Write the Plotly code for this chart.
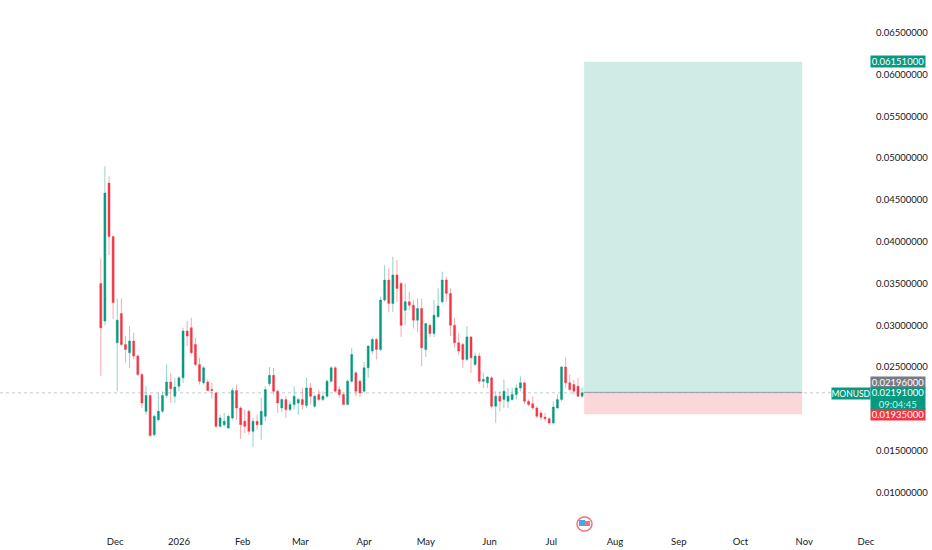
import numpy as np
import pandas as pd
import plotly.graph_objects as go

# MONUSD 2D candles, prices in thousandths of a dollar
dates = pd.date_range("2025-11-24", periods=118, freq="2D")
opens = [35.0, 30.5, 47.0, 40.6, 27.9, 31.4, 27.7, 26.7, 28.1, 26.3, 24.1, 19.7, 21.6, 16.9, 18.7, 19.7, 21.6, 23.2, 21.5, 22.7,
         23.7, 29.3, 29.7, 27.7, 25.3, 23.1, 23.2, 22.3, 21.9, 17.9, 18.1, 17.7, 18.9, 22.2, 20.1, 18.5, 19.7, 17.3, 18.5, 18.1,
         19.1, 23.0, 24.0, 22.1, 20.1, 21.1, 19.9, 20.5, 20.7, 21.1, 20.4, 22.5, 20.3, 21.7, 21.1, 21.5, 23.3, 24.9, 22.3, 21.7,
         20.5, 23.3, 24.3, 23.3, 22.1, 24.9, 26.9, 28.3, 27.1, 33.0, 35.4, 32.6, 36.0, 35.0, 31.8, 32.8, 32.4, 30.6, 32.0, 27.1,
         30.0, 29.0, 31.0, 32.8, 35.4, 33.8, 30.0, 27.9, 27.7, 25.9, 28.6, 25.3, 26.3, 23.3, 23.1, 23.7, 20.3, 21.5, 21.1, 20.9,
         21.1, 21.7, 22.5, 23.1, 20.9, 20.6, 20.1, 19.5, 19.0, 18.8, 18.3, 20.1, 21.1, 25.0, 23.1, 22.9, 22.7, 21.5]
highs = [38.0, 49.0, 47.8, 40.7, 33.2, 33.2, 28.7, 29.9, 29.1, 26.5, 24.3, 22.7, 21.7, 19.3, 21.9, 22.1, 25.3, 24.3, 23.7, 23.9,
         29.7, 30.5, 30.9, 28.5, 26.1, 25.1, 23.5, 23.1, 22.0, 19.3, 19.5, 19.3, 22.5, 22.9, 20.3, 19.9, 19.9, 18.9, 19.3, 21.3,
         22.7, 25.0, 24.9, 22.3, 21.3, 21.5, 20.9, 22.7, 21.3, 22.5, 23.7, 23.1, 21.7, 22.3, 22.1, 23.5, 25.1, 25.1, 22.7, 21.9,
         23.5, 27.3, 24.5, 23.5, 25.6, 27.6, 28.5, 28.5, 33.4, 37.2, 36.8, 38.2, 37.8, 35.2, 35.0, 34.0, 33.0, 33.2, 33.2, 30.2,
         30.2, 33.0, 34.4, 36.4, 35.8, 34.4, 30.9, 29.0, 27.9, 29.9, 28.7, 26.7, 26.7, 24.3, 23.9, 23.9, 22.1, 22.1, 23.5, 22.5,
         22.5, 22.9, 23.9, 23.2, 21.1, 21.5, 20.3, 19.8, 19.5, 19.0, 20.9, 21.7, 25.1, 26.1, 24.1, 23.5, 23.7, 22.5]
lows = [23.9, 30.0, 38.4, 30.7, 22.1, 27.5, 25.5, 24.9, 25.9, 23.9, 20.1, 19.3, 16.6, 16.7, 18.5, 19.5, 21.3, 20.7, 20.7, 22.1,
        23.1, 27.5, 26.5, 25.1, 22.9, 22.9, 22.1, 21.2, 17.7, 17.7, 17.9, 17.6, 18.7, 18.7, 16.4, 17.1, 16.9, 15.4, 17.5, 16.3,
        18.5, 22.7, 21.7, 19.5, 19.6, 18.9, 19.7, 19.9, 19.3, 19.9, 20.1, 20.5, 20.1, 20.9, 20.9, 21.3, 23.1, 21.9, 21.3, 20.5,
        20.5, 23.1, 21.5, 21.4, 21.9, 23.7, 26.5, 25.9, 26.9, 32.8, 31.6, 31.6, 32.8, 28.6, 30.0, 31.8, 29.6, 29.2, 25.1, 26.2,
        28.6, 28.6, 30.9, 32.6, 32.8, 28.7, 27.3, 26.5, 24.9, 25.7, 24.3, 25.1, 23.0, 22.5, 22.5, 20.1, 18.3, 19.7, 20.1, 20.1,
        21.0, 21.1, 22.1, 20.6, 20.3, 19.9, 18.9, 18.6, 18.5, 18.1, 18.1, 20.0, 20.9, 22.5, 22.1, 21.7, 21.4, 21.3]
closes = [29.7, 45.8, 40.6, 32.7, 30.6, 27.7, 27.1, 28.1, 26.3, 24.1, 20.7, 21.6, 16.8, 19.1, 19.7, 21.6, 23.2, 22.4, 22.6, 23.7,
          29.3, 28.7, 26.7, 25.3, 23.3, 24.9, 22.2, 22.2, 17.9, 18.9, 18.5, 19.1, 22.2, 20.1, 18.1, 17.9, 17.3, 18.5, 18.1, 19.7,
          22.3, 24.0, 22.1, 20.7, 21.1, 19.9, 20.5, 21.5, 21.1, 20.5, 22.5, 21.5, 21.5, 21.1, 21.5, 23.3, 24.9, 22.1, 21.7, 20.5,
          23.3, 26.5, 22.1, 21.9, 24.9, 27.5, 28.3, 27.1, 33.0, 35.4, 32.6, 36.0, 34.4, 30.0, 32.8, 32.4, 30.6, 32.0, 27.3, 30.2,
          29.0, 31.2, 32.3, 35.4, 33.8, 30.0, 27.9, 26.9, 25.9, 28.6, 26.1, 26.3, 23.3, 23.5, 23.8, 20.3, 21.5, 20.9, 22.1, 21.5,
          21.7, 22.5, 23.1, 20.9, 20.5, 20.1, 19.1, 19.0, 18.8, 18.3, 20.2, 21.1, 25.0, 23.1, 22.3, 22.1, 21.5, 21.91]

y_ticks = [0.065, 0.06, 0.055, 0.05, 0.045, 0.04, 0.035, 0.03, 0.025, 0.015, 0.01]
month_ticks = ["2025-12-01", "2026-01-01", "2026-02-01", "2026-03-01", "2026-04-01", "2026-05-01",
               "2026-06-01", "2026-07-01", "2026-08-01", "2026-09-01", "2026-10-01", "2026-11-01", "2026-12-01"]
month_labels = ["Dec", "2026", "Feb", "Mar", "Apr", "May", "Jun", "Jul", "Aug", "Sep", "Oct", "Nov", "Dec"]

entry = 0.02196
target = 0.06151
stop = 0.01935
last_price = 0.02191
box_start = "2026-07-17"
box_end = "2026-10-31"

GREEN = "#089981"
RED = "#f23645"
FONT = "Lato"
PLOT_W = 868

fig = go.Figure(go.Candlestick(
    x=dates,
    open=np.array(opens) / 1000,
    high=np.array(highs) / 1000,
    low=np.array(lows) / 1000,
    close=np.array(closes) / 1000,
    increasing=dict(line=dict(color="rgba(8,153,129,0.55)", width=0.8), fillcolor=GREEN),
    decreasing=dict(line=dict(color="rgba(242,54,69,0.55)", width=0.8), fillcolor=RED),
    whiskerwidth=0,
    showlegend=False,
))

# long position box
fig.add_shape(type="rect", x0=box_start, x1=box_end, y0=entry, y1=target, layer="below",
              fillcolor="rgba(8,153,129,0.2)", line_width=0)
fig.add_shape(type="rect", x0=box_start, x1=box_end, y0=stop, y1=entry, layer="below",
              fillcolor="rgba(242,54,69,0.2)", line_width=0)
fig.add_shape(type="line", x0=box_start, x1=box_end, y0=entry, y1=entry, line=dict(color="#9a9ea6", width=1))

# last price line runs up to the symbol tag
fig.add_shape(type="line", xref="paper", x0=0, x1=832 / PLOT_W, y0=last_price, y1=last_price, layer="below",
              line=dict(color="rgba(120,140,135,0.45)", width=1, dash="dot"))


def tag(text, y, color, height=11, x_px=898, width=54, size=9.5):
    fig.add_annotation(text=text, xref="paper", x=x_px / PLOT_W, xanchor="center", yref="y", y=y, yanchor="middle",
                       showarrow=False, font=dict(family=FONT, size=size, color="white"), bgcolor=color,
                       width=width, height=height, borderpad=0, align="center")


tag("0.06151000", target, GREEN)
tag("0.02196000", 0.02317, "#787b86")
tag("0.01935000", 0.01934, RED)
tag("0.02191000<br><span style='color:#cfeee7'>09:04:45</span>", 0.02125, GREEN, height=21)
tag("MONUSD", 0.02185, GREEN, x_px=851, width=38, size=8.5)

# economic calendar flag under the candles
fig.add_shape(type="circle", xref="paper", yref="paper", x0=577 / PLOT_W, x1=592 / PLOT_W,
              y0=(530 - 531) / 530, y1=(530 - 517) / 530, fillcolor="white", line=dict(color="#f0707c", width=1.5))
fig.add_shape(type="rect", xref="paper", yref="paper", x0=579 / PLOT_W, x1=590 / PLOT_W,
              y0=(530 - 526) / 530, y1=(530 - 521) / 530, fillcolor="#f0707c", line_width=0)
fig.add_shape(type="rect", xref="paper", yref="paper", x0=579 / PLOT_W, x1=585 / PLOT_W,
              y0=(530 - 526) / 530, y1=(530 - 520) / 530, fillcolor="#4da3ee", line_width=0)

fig.update_layout(
    width=932,
    height=550,
    margin=dict(l=0, r=64, t=0, b=20, autoexpand=False),
    paper_bgcolor="white",
    plot_bgcolor="white",
    font=dict(family=FONT, size=9.5, color="#131722"),
    xaxis=dict(range=["2025-10-06", "2026-12-02"], rangeslider_visible=False, showgrid=False, zeroline=False,
               tickmode="array", tickvals=month_ticks, ticktext=month_labels,
               ticks="outside", ticklen=3, tickcolor="white"),
    yaxis=dict(range=[0.0055, 0.0689], side="right", showgrid=False, zeroline=False,
               tickmode="array", tickvals=y_ticks, tickformat=".8f",
               ticks="outside", ticklen=5, tickcolor="white"),
)

fig.write_html("out.html", config=dict(displayModeBar=False), post_script="document.body.style.margin='0';")
